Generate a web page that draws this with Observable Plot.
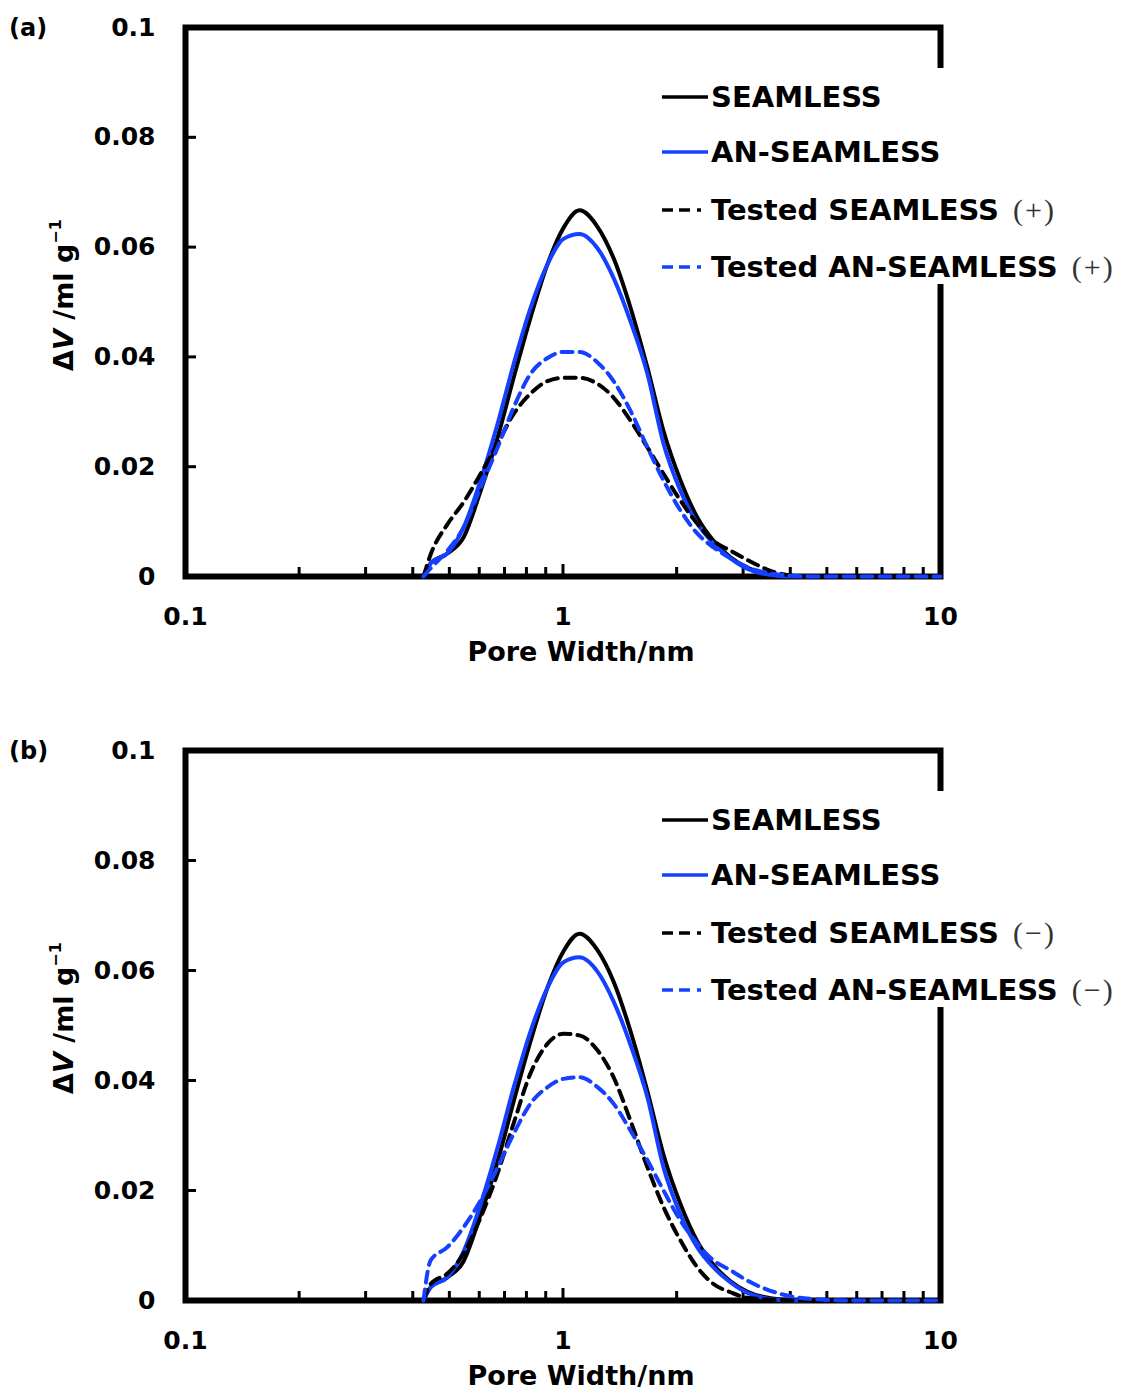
<!DOCTYPE html>
<html>
<head>
<meta charset="utf-8">
<script src="https://cdn.jsdelivr.net/npm/d3@7"></script>
<script src="https://cdn.jsdelivr.net/npm/@observablehq/plot@0.6"></script>
<style>
  html, body { margin: 0; padding: 0; background: #fff; }
  body { width: 1132px; font-family: "DejaVu Sans", sans-serif; }
  .panel { position: relative; width: 1132px; }
  .legend { position: absolute; left: 655px; top: 68px; width: 477px; height: 216px; background: #fff; }
  .row { position: absolute; left: 7px; height: 36px; display: flex; align-items: center; white-space: nowrap; }
  .row .txt { font-family: "DejaVu Sans", sans-serif; font-weight: bold; font-size: 29px; color: #000; margin-left: 3px; }
  .row .sign { font-family: "Liberation Serif", serif; font-weight: normal; font-size: 30px; color: #333; margin-left: 14px; letter-spacing: 2px; }
  .ytitle { position: absolute; left: 62px; top: 295px; transform: translate(-50%, -50%) rotate(-90deg);
            font-family: "DejaVu Sans", sans-serif; font-weight: bold; font-size: 27px; white-space: nowrap; color: #000; }
  .ytitle sup { font-size: 16px; vertical-align: 12px; }
  .plabel { position: absolute; left: 9px; top: 14px; font-family: "DejaVu Sans", sans-serif; font-weight: bold; font-size: 24px; color: #000; }
</style>
</head>
<body>
<div id="panelA" class="panel" style="height:723px"></div>
<div id="panelB" class="panel" style="height:668px"></div>
<script>
// ---------- data ----------
const poreWidth = [0.427, 0.446, 0.494, 0.545, 0.605, 0.671, 0.740, 0.820, 0.910, 1.003, 1.106, 1.234, 1.361, 1.509, 1.674, 1.846, 2.048, 2.271, 2.504, 2.778, 3.081, 3.77, 4.5, 6, 8, 10];

const seamless   = [0, 0.0024, 0.0042, 0.0071, 0.0156, 0.0253, 0.0362, 0.0471, 0.0569, 0.0635, 0.0667, 0.0637, 0.0580, 0.0490, 0.0380, 0.0265, 0.0175, 0.0107, 0.0065, 0.0035, 0.0016, 0.0002, 0, null, null, null];
const anSeamless = [0, 0.0024, 0.0042, 0.0089, 0.0175, 0.0278, 0.0387, 0.0489, 0.0569, 0.0615, 0.0624, 0.0598, 0.0544, 0.0465, 0.0369, 0.0242, 0.0156, 0.0096, 0.0060, 0.0033, 0.0014, 0.0001, 0, null, null, null];

// panel (a): tested, positive
const testedSeamlessPos   = [0, 0.0040, 0.0095, 0.0135, 0.0187, 0.0242, 0.0296, 0.0333, 0.0356, 0.0362, 0.0362, 0.0351, 0.0326, 0.0284, 0.0235, 0.0187, 0.0138, 0.0096, 0.0065, 0.0047, 0.0030, 0.0005, 0, 0, 0, 0];
const testedAnSeamlessPos = [0, 0.0015, 0.0047, 0.0089, 0.0162, 0.0235, 0.0308, 0.0369, 0.0398, 0.0409, 0.0409, 0.0390, 0.0356, 0.0302, 0.0235, 0.0175, 0.0120, 0.0078, 0.0053, 0.0033, 0.0017, 0.0003, 0, 0, 0, 0];

// panel (b): tested, negative
const testedSeamlessNeg   = [0, 0.0030, 0.0049, 0.0085, 0.0151, 0.0231, 0.0322, 0.0413, 0.0467, 0.0485, 0.0482, 0.0455, 0.0406, 0.0327, 0.0242, 0.0170, 0.0109, 0.0060, 0.0030, 0.0015, 0.0005, 0.0001, 0, 0, 0, 0];
const testedAnSeamlessNeg = [0, 0.0073, 0.0097, 0.0133, 0.0182, 0.0242, 0.0303, 0.0358, 0.0388, 0.0403, 0.0406, 0.0388, 0.0358, 0.0309, 0.0255, 0.0200, 0.0145, 0.0103, 0.0073, 0.0055, 0.0036, 0.0012, 0.0003, 0, 0, 0];

const seriesNames = ["SEAMLESS", "AN-SEAMLESS", "Tested SEAMLESS", "Tested AN-SEAMLESS"];
const xTicks = [0.1, 1, 10];
const xMinorTicks = [0.2, 0.3, 0.4, 0.5, 0.6, 0.7, 0.8, 0.9, 2, 3, 4, 5, 6, 7, 8, 9];
const yTicks = [0, 0.02, 0.04, 0.06, 0.08, 0.1];
const xLabel = "Pore Width/nm";

// ---------- styles ----------
const BLUE = "#1640ff";
const seriesStyle = [
  {stroke: "#000", dash: null},
  {stroke: BLUE, dash: null},
  {stroke: "#000", dash: "11,7"},
  {stroke: BLUE, dash: "11,7"}
];

function buildPanel(el, opts) {
  const {values, height, marginBottom, label, sign} = opts;
  const marginTop = 27, marginLeft = 185, marginRight = 192, width = 1132;
  const innerH = height - marginTop - marginBottom;
  const innerW = width - marginLeft - marginRight;

  const lines = values.map((vals, i) => {
    const rows = poreWidth.map((w, k) => ({w, v: vals[k]}));
    return Plot.line(rows, {
      x: "w", y: "v",
      stroke: seriesStyle[i].stroke,
      strokeWidth: 4,
      strokeDasharray: seriesStyle[i].dash,
      curve: "monotone-x"
    });
  });

  const chart = Plot.plot({
    width, height, marginTop, marginLeft, marginRight, marginBottom,
    x: {type: "log", domain: [0.1, 10]},
    y: {domain: [0, 0.1]},
    style: {fontFamily: "DejaVu Sans", fontWeight: "bold", fontSize: "25px", color: "#000", background: "transparent"},
    marks: [
      Plot.frame({stroke: "#000", strokeWidth: 6}),
      Plot.tickX(xMinorTicks, {x: d => d, insetTop: innerH - 9, stroke: "#000", strokeWidth: 3}),
      Plot.tickX([1], {x: d => d, insetTop: innerH - 12, stroke: "#000", strokeWidth: 3}),
      Plot.tickY(yTicks.slice(1, -1), {y: d => d, insetRight: innerW - 11, stroke: "#000", strokeWidth: 3}),
      ...lines,
      Plot.axisX(xTicks, {tickSize: 0, tickPadding: 31, tickFormat: d => String(d), fontSize: 25, fontWeight: "bold", label: null}),
      Plot.axisY(yTicks, {tickSize: 0, tickPadding: 30, tickFormat: d => String(d), fontSize: 25, fontWeight: "bold", label: null}),
      Plot.text([xLabel], {frameAnchor: "bottom", dx: 18, dy: 84, fontSize: 27, fontWeight: "bold", fill: "#000"})
    ]
  });
  el.appendChild(chart);

  // legend (HTML overlay)
  const legend = document.createElement("div");
  legend.className = "legend";
  const rowCenters = [29, 84, 142, 199];
  seriesNames.forEach((name, i) => {
    const row = document.createElement("div");
    row.className = "row";
    row.style.top = (rowCenters[i] - 18) + "px";
    const st = seriesStyle[i];
    const dash = st.dash ? ' stroke-dasharray="11,6,11,7,4"' : "";
    row.innerHTML = `<svg width="46" height="10"><line x1="0" y1="5" x2="46" y2="5" stroke="${st.stroke}" stroke-width="3.5"${dash}/></svg>` +
      `<span class="txt">${name}</span>` + (i >= 2 ? `<span class="sign">(${sign})</span>` : "");
    legend.appendChild(row);
  });
  el.appendChild(legend);

  const yt = document.createElement("div");
  yt.className = "ytitle";
  yt.innerHTML = "Δ<i>V</i> /ml g<sup>−1</sup>";
  el.appendChild(yt);

  const pl = document.createElement("div");
  pl.className = "plabel";
  pl.textContent = label;
  el.appendChild(pl);
}

buildPanel(document.getElementById("panelA"), {
  values: [seamless, anSeamless, testedSeamlessPos, testedAnSeamlessPos],
  height: 723, marginBottom: 147, label: "(a)", sign: "+"
});
buildPanel(document.getElementById("panelB"), {
  values: [seamless, anSeamless, testedSeamlessNeg, testedAnSeamlessNeg],
  height: 668, marginBottom: 91, label: "(b)", sign: "−"
});
</script>
</body>
</html>
